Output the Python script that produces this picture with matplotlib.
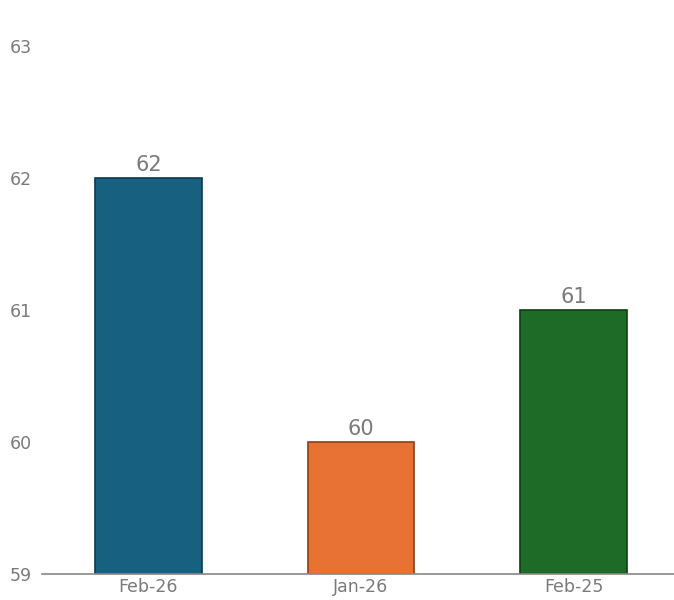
import matplotlib
matplotlib.use('Agg')
import matplotlib.pyplot as plt

categories = ['Feb-26', 'Jan-26', 'Feb-25']
values = [62, 60, 61]
colors = ['#17607f', '#e87234', '#1d6b27']
edges = ['#0c3a50', '#8a3f16', '#0e3e14']

fig = plt.figure(figsize=(6.74, 6.0), dpi=100)
ax = fig.add_axes([42 / 674, 26 / 600, 632 / 674, 528 / 600])

x = range(len(categories))
bars = ax.bar(x, values, width=0.5, color=colors, edgecolor=edges, linewidth=1.2)
for xi, v in zip(x, values):
    ax.text(xi, v + 0.025, str(v), ha='center', va='bottom', fontsize=15, color='#7a7a7a')

ax.set_ylim(59, 63)
ax.set_xlim(-0.501, 2.473)
ax.set_yticks([59, 60, 61, 62, 63])
ax.set_xticks(list(x))
ax.set_xticklabels(categories)
ax.tick_params(axis='both', length=0, labelsize=12.5, colors='#7a7a7a')
ax.tick_params(axis='y', pad=7)
ax.tick_params(axis='x', pad=3)
for s in ['top', 'right', 'left']:
    ax.spines[s].set_visible(False)
ax.spines['bottom'].set_color('#888888')
ax.spines['bottom'].set_linewidth(1.2)

fig.savefig('out.png', dpi=100)
